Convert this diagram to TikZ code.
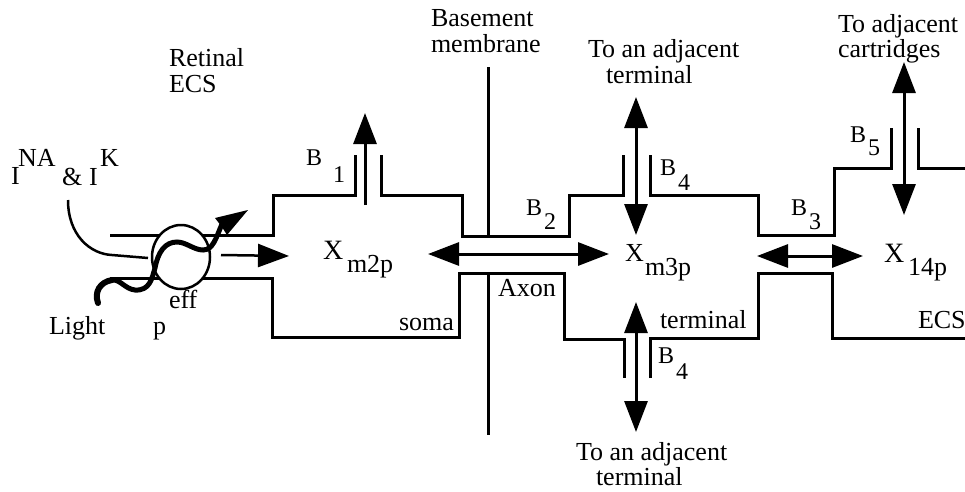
\documentclass[tikz,border=0pt]{standalone}
\usepackage{fontspec}
\setmainfont{Liberation Serif}
\usetikzlibrary{arrows.meta,shapes.geometric}
\tikzset{
  wall/.style={line width=3pt,line join=miter,line cap=butt},
  lab/.style={anchor=base west,inner sep=0pt,outer sep=0pt,font=\fontsize{26}{26}\selectfont},
  blab/.style={lab,font=\fontsize{24}{24}\selectfont},
  dblarrow/.style={line width=3pt,{Triangle[length=31pt,width=23pt]}-{Triangle[length=31pt,width=23pt]}},
  onearrow/.style={line width=3pt,-{Triangle[length=31pt,width=23pt]}},
}
\begin{document}
\begin{tikzpicture}[x=1pt,y=-1pt]
\useasboundingbox (0,0) rectangle (965,491);
% walls
\draw[wall] (110,235) -- (273,235) -- (273,195) -- (355,195) -- (355,155);
\draw[wall] (381,155) -- (381,195) -- (462,195) -- (462,236) -- (569,236) -- (569,195) -- (623,195) -- (623,155);
\draw[wall] (650,155) -- (650,195) -- (758,195) -- (758,235) -- (834,235) -- (834,168) -- (891,168) -- (891,128);
\draw[wall] (918,128) -- (918,168) -- (965,168);
\draw[wall] (110,278) -- (272,278) -- (272,337) -- (459,337) -- (459,273) -- (564,273) -- (564,339) -- (624,339) -- (624,378);
\draw[wall] (650,378) -- (650,338) -- (758,338) -- (758,273) -- (832,273) -- (832,338) -- (965,338);
\draw[wall] (488,67) -- (488,236);
\draw[wall] (488,273) -- (488,435);
% circle
\node[draw,line width=2.5pt,fill=white,ellipse,inner sep=0pt,minimum width=58pt,minimum height=64pt] (pump) at (181,257) {};
% arrows
\coordinate (b1a) at (365,205); \coordinate (b1b) at (365,113);
\draw[onearrow] (b1a) -- (b1b);
\coordinate (cl) at (428,254); \coordinate (cr) at (609,254);
\draw[dblarrow] (cl) -- (cr);
\coordinate (tt) at (636,97); \coordinate (tb) at (636,235);
\draw[dblarrow] (tt) -- (tb);
\coordinate (bt) at (636,302); \coordinate (bb) at (636,432);
\draw[dblarrow] (bt) -- (bb);
\coordinate (rl) at (757,256); \coordinate (rr) at (863,256);
\draw[dblarrow] (rl) -- (rr);
\coordinate (ct) at (904,62); \coordinate (cb) at (904,215);
\draw[dblarrow] (ct) -- (cb);
\coordinate (pa) at (221,255); \coordinate (pb) at (289,256);
\draw[onearrow,line width=2.5pt] (pa) -- (pb);
% current curve
\coordinate (cur) at (68,200); \coordinate (curend) at (148,258);
\draw[line width=2.5pt] (cur) .. controls (68,235) and (90,254) .. (112,255) -- (curend);
% wave
\coordinate (w0) at (98,303); \coordinate (w1) at (248,210);
\draw[line width=6pt,line cap=round] (w0) .. controls (94,292) and (100,282) .. (112,280);
\draw[line width=5pt] (112,280) .. controls (120,279) and (125,289) .. (135,290)
  .. controls (150,291) and (152,278) .. (155,268)
  .. controls (158,252) and (165,242) .. (177,242)
  .. controls (186,242) and (194,250) .. (203,250)
  .. controls (213,250) and (216,238) .. (222,224);
\fill (w1) -- (215,218) -- (222,227) -- (227,235) -- cycle;
% text
\node[lab] (t1) at (169,66) {Retinal};
\node[lab] (t2) at (169,92) {ECS};
\node[lab] (i1) at (11,184) {I};
\node[lab] (na) at (18,166) {NA};
\node[lab] (amp) at (62,185) {\&};
\node[lab] (i2) at (89,185) {I};
\node[lab] (k) at (100,166) {K};
\node[lab] (light) at (49,334) {Light};
\node[lab] (p) at (153,334) {p};
\node[lab] (eff) at (169,308) {eff};
\node[lab] (base) at (431,26) {Basement};
\node[lab] (memb) at (431,52) {membrane};
\node[lab] (ta1) at (588,57) {To an adjacent};
\node[lab] (ta2) at (606,83) {terminal};
\node[lab] (tc1) at (838,32) {To adjacent};
\node[lab] (tc2) at (838,57) {cartridges};
\node[lab] (tb1) at (576,460) {To an adjacent};
\node[lab] (tb2) at (596,485) {terminal};
\node[lab] (axon) at (498,296) {Axon};
\node[lab] (soma) at (399,330) {soma};
\node[lab] (term) at (660,328) {terminal};
\node[lab] (ecs) at (918,328) {ECS};
% B labels
\node[blab] (b1) at (306,165) {B};
\node[blab] (b1s) at (333,182) {1};
\node[blab] (b2) at (526,215) {B};
\node[blab] (b2s) at (544,229) {2};
\node[blab] (b4) at (660,175) {B};
\node[blab] (b4s) at (678,190) {4};
\node[blab] (b3) at (791,215) {B};
\node[blab] (b3s) at (809,229) {3};
\node[blab] (b5) at (850,142) {B};
\node[blab] (b5s) at (868,155) {5};
\node[blab] (b6) at (658,363) {B};
\node[blab] (b6s) at (676,379) {4};
% X labels
\node[lab,font=\fontsize{28}{28}\selectfont] (x1) at (323,259) {X};
\node[lab] (x1s) at (347,272) {m2p};
\node[lab] (x2) at (625,261) {X};
\node[lab] (x2s) at (645,275) {m3p};
\node[lab,font=\fontsize{28}{28}\selectfont] (x3) at (884,262) {X};
\node[lab] (x3s) at (908,275) {14p};
\end{tikzpicture}
\end{document}
